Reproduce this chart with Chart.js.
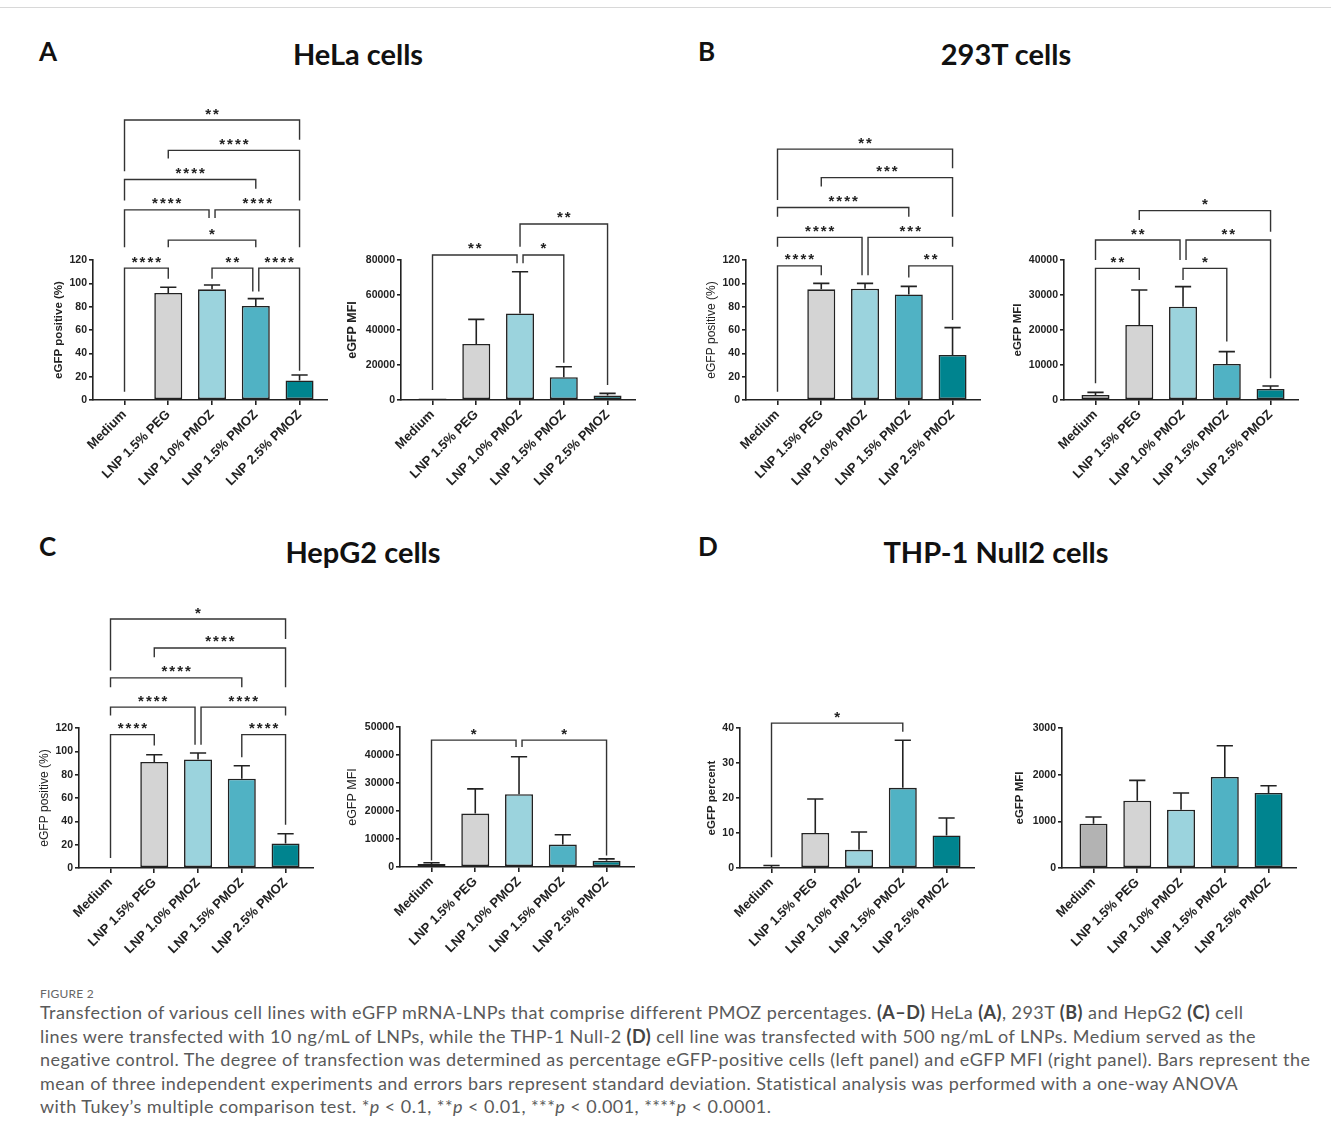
<!DOCTYPE html>
<html>
<head>
<meta charset="utf-8">
<script src="https://cdn.jsdelivr.net/npm/chart.js@4.4.1/dist/chart.umd.min.js"></script>
<style>
  body { margin: 0; background: #fff; }
  #page { position: relative; width: 1331px; height: 1138px; overflow: hidden; background: #fff; }
  #page canvas { position: absolute; }
  .topline { position: absolute; left: 0; top: 7px; width: 1331px; height: 1px; background: #d8d8d8; }
  .letter, .title { position: absolute; font-family: Lato, sans-serif; font-weight: 700; color: #111; line-height: 1; white-space: nowrap; }
  .letter { font-size: 26px; }
  .title { font-size: 29px; transform: translateX(-50%); }
  .figno { position: absolute; left: 40px; top: 986px; font-family: Lato, sans-serif; font-size: 12px; color: #666; letter-spacing: 0.2px; }
  .caption { position: absolute; left: 40px; top: 1001px; font-family: Lato, sans-serif; font-size: 18px; letter-spacing: 0.45px; line-height: 23.5px; color: #5a5a5a; white-space: nowrap; }
  .caption b { color: #444; }
</style>
</head>
<body>
<div id="page">
  <div class="topline"></div>
  <div class="letter" style="left:39px; top:38px;">A</div>
  <div class="title" style="left:358px; top:39px;">HeLa cells</div>
  <div class="letter" style="left:698px; top:38px;">B</div>
  <div class="title" style="left:1006px; top:39px;">293T cells</div>
  <div class="letter" style="left:39px; top:533px;">C</div>
  <div class="title" style="left:363px; top:537px;">HepG2 cells</div>
  <div class="letter" style="left:698px; top:533px;">D</div>
  <div class="title" style="left:996px; top:537px;">THP-1 Null2 cells</div>

  <canvas id="helaPct" width="297" height="400"></canvas>
  <canvas id="helaMfi" width="297" height="400"></canvas>
  <canvas id="t293Pct" width="297" height="400"></canvas>
  <canvas id="t293Mfi" width="297" height="400"></canvas>
  <canvas id="hepPct" width="297" height="400"></canvas>
  <canvas id="hepMfi" width="297" height="400"></canvas>
  <canvas id="thpPct" width="297" height="400"></canvas>
  <canvas id="thpMfi" width="297" height="400"></canvas>

  <div class="figno">FIGURE 2</div>
  <div class="caption">
    Transfection of various cell lines with eGFP mRNA-LNPs that comprise different PMOZ percentages. <b>(A–D)</b> HeLa <b>(A)</b>, 293T <b>(B)</b> and HepG2 <b>(C)</b> cell<br>
    lines were transfected with 10 ng/mL of LNPs, while the THP-1 Null-2 <b>(D)</b> cell line was transfected with 500 ng/mL of LNPs. Medium served as the<br>
    negative control. The degree of transfection was determined as percentage eGFP-positive cells (left panel) and eGFP MFI (right panel). Bars represent the<br>
    mean of three independent experiments and errors bars represent standard deviation. Statistical analysis was performed with a one-way ANOVA<br>
    with Tukey’s multiple comparison test. *<i>p</i> &lt; 0.1, **<i>p</i> &lt; 0.01, ***<i>p</i> &lt; 0.001, ****<i>p</i> &lt; 0.0001.
  </div>
</div>

<script>
// Categories and bar colours
const categories = ['Medium', 'LNP 1.5% PEG', 'LNP 1.0% PMOZ', 'LNP 1.5% PMOZ', 'LNP 2.5% PMOZ'];
const barColors = ['#b3b3b3', '#d4d4d4', '#9bd3dd', '#50b2c4', '#00848f'];

// HeLa
const helaPct = [0.2, 91.7, 94.9, 80.6, 16.8];
const helaPctSd = [0.1, 4.9, 3.7, 6.3, 4.6];
const helaMfi = [900, 32000, 49500, 13000, 2600];
const helaMfiSd = [500, 14100, 23800, 6000, 1200];

// 293T
const t293Pct = [0.4, 94.9, 95.4, 90.5, 38.6];
const t293PctSd = [0.1, 5.1, 4.6, 6.9, 23.4];
const t293Mfi = [1430, 21430, 26670, 10290, 3140];
const t293MfiSd = [760, 10000, 5710, 3520, 860];

// HepG2
const hepPct = [0.9, 90.9, 93.0, 76.6, 20.9];
const hepPctSd = [0.1, 6.2, 5.6, 11.1, 8.5];
const hepMfi = [1060, 19070, 26000, 8000, 2200];
const hepMfiSd = [440, 8830, 13400, 3500, 700];

// THP-1 Null2
const thpPct = [0.3, 10.0, 5.2, 22.9, 9.3];
const thpPctSd = [0.4, 9.7, 5.1, 13.6, 5.0];
const thpMfi = [950, 1443, 1250, 1950, 1607];
const thpMfiSd = [143, 434, 357, 670, 157];

// Significance brackets: [from, to, label, level, left leg end, right leg end]
const helaPctSig = [
    [0, 1, '****', 113, 7, 104],
    [2, 3, '**', 113, 104, 93],
    [3, 4, '****', 113, 93, 25],
    [1, 3, '*', 137, 131, 131],
    [0, 2, '****', 163, 131, 156],
    [2, 4, '****', 163, 156, 131],
    [0, 3, '****', 189, 171, 181],
    [1, 4, '****', 214, 207, 171],
    [0, 4, '**', 240, 196, 223]
];
const helaMfiSig = [
    [0, 2, '**', 82900, 5700, 78100],
    [2, 3, '*', 82900, 78100, 21300],
    [2, 4, '**', 100600, 87600, 8600]
];
const t293PctSig = [
    [0, 1, '****', 115, 7, 107],
    [3, 4, '**', 115, 105, 68.6],
    [0, 2, '****', 139.4, 131.4, 107],
    [2, 4, '***', 139.4, 107, 131.4],
    [0, 3, '****', 165, 157, 157],
    [1, 4, '***', 190.6, 183, 157],
    [0, 4, '**', 215, 171.4, 198.6]
];
const t293MfiSig = [
    [0, 1, '**', 37600, 4760, 34300],
    [2, 3, '*', 37600, 34300, 16700],
    [0, 2, '**', 45700, 40000, 40000],
    [2, 4, '**', 45700, 40000, 6200],
    [1, 4, '*', 54100, 51400, 48100]
];
const hepPctSig = [
    [0, 1, '****', 114.3, 8.6, 105],
    [3, 4, '****', 114.3, 95, 37],
    [0, 2, '****', 137.9, 130.8, 105.7],
    [2, 4, '****', 137.9, 105.7, 130.8],
    [0, 3, '****', 163, 155, 155],
    [1, 4, '****', 188.6, 180.6, 155],
    [0, 4, '*', 213.4, 169.2, 196.3]
];
const hepMfiSig = [
    [0, 2, '*', 45300, 2350, 42900],
    [2, 4, '*', 45300, 42900, 4100]
];
const thpPctSig = [
    [0, 3, '*', 41.4, 3.1, 38.9]
];

Chart.defaults.font.family = "'Liberation Sans', Arial, sans-serif";
Chart.defaults.color = '#222';

const extras = {};

// error bars (mean + SD) and significance brackets
const sigPlugin = {
    id: 'sig',
    afterDatasetsDraw(chart) {
        const extra = extras[chart.canvas.id];
        const { ctx } = chart;
        const xs = chart.scales.x, ys = chart.scales.y;
        const meta = chart.getDatasetMeta(0);
        ctx.save();
        ctx.strokeStyle = '#222';
        ctx.lineWidth = 1.6;
        extra.values.forEach((v, i) => {
            const bar = meta.data[i];
            const half = bar.width * 0.29;
            const y0 = ys.getPixelForValue(v);
            const y1 = ys.getPixelForValue(v + extra.sd[i]);
            if (y0 - y1 < 1) return;
            ctx.beginPath();
            ctx.moveTo(bar.x, y0);
            ctx.lineTo(bar.x, y1);
            ctx.moveTo(bar.x - half, y1);
            ctx.lineTo(bar.x + half, y1);
            ctx.stroke();
        });

        const br = extra.brackets;
        ctx.lineWidth = 1.4;
        ctx.strokeStyle = '#333';
        ctx.fillStyle = '#222';
        ctx.font = "bold 15px 'Liberation Sans'";
        ctx.textAlign = 'center';
        ctx.textBaseline = 'alphabetic';
        ctx.letterSpacing = '2px';
        br.forEach(([a, b, label, level, endA, endB]) => {
            let xa = xs.getPixelForValue(a);
            let xb = xs.getPixelForValue(b);
            if (br.some(o => o[3] === level && o[1] === a)) xa += 3;
            if (br.some(o => o[3] === level && o[0] === b)) xb -= 3;
            const yl = ys.getPixelForValue(level);
            ctx.beginPath();
            ctx.moveTo(xa, ys.getPixelForValue(endA));
            ctx.lineTo(xa, yl);
            ctx.lineTo(xb, yl);
            ctx.lineTo(xb, ys.getPixelForValue(endB));
            ctx.stroke();
            ctx.fillText(label, (xa + xb) / 2 + 1, yl - 1.5);
        });
        ctx.restore();
    }
};

const makeChart = (p) => {
    const canvas = document.getElementById(p.id);
    canvas.style.left = (p.axisX - 62) + 'px';
    canvas.style.top = (p.plotTop - 170) + 'px';
    extras[p.id] = { values: p.values, sd: p.sd, brackets: p.brackets || [] };
    const lineH = p.titleSize * 1.2;

    new Chart(canvas, {
        type: 'bar',
        data: {
            datasets: [{
                data: p.values.map((v, i) => ({ x: i, y: v })),
                backgroundColor: barColors,
                borderColor: '#222',
                borderWidth: 1.6,
                borderSkipped: false,
                barPercentage: 0.64,
                categoryPercentage: 1
            }]
        },
        options: {
            responsive: false,
            animation: false,
            layout: { padding: { top: 170, left: 0, right: 0, bottom: 0 } },
            plugins: {
                legend: { display: false },
                tooltip: { enabled: false }
            },
            scales: {
                x: {
                    type: 'linear',
                    min: -0.72,
                    max: 4.65,
                    offset: false,
                    afterBuildTicks: s => { s.ticks = categories.map((c, i) => ({ value: i })); },
                    afterFit: s => { s.height = 90; },
                    ticks: {
                        autoSkip: false,
                        minRotation: 45,
                        maxRotation: 45,
                        padding: 2,
                        color: '#222',
                        font: { size: 13, weight: 'bold' },
                        callback: v => categories[v]
                    },
                    grid: { offset: false, drawOnChartArea: false, drawTicks: true, tickLength: 5, color: '#222', lineWidth: 1.6 },
                    border: { color: '#222', width: 1.6 }
                },
                y: {
                    min: 0,
                    max: p.max,
                    afterFit: s => { s.width = 62; },
                    ticks: {
                        stepSize: p.step,
                        padding: 2,
                        color: '#222',
                        font: { size: 10.5, weight: 'bold' },
                        callback: v => String(v)
                    },
                    grid: { drawOnChartArea: false, drawTicks: true, tickLength: 4, color: '#222', lineWidth: 1.6 },
                    border: { color: '#222', width: 1.6 },
                    title: {
                        display: true,
                        text: p.yTitle,
                        color: '#222',
                        font: { size: p.titleSize, weight: p.titleBold ? 'bold' : 'normal' },
                        padding: { top: 62 - p.titleGap - lineH / 2, bottom: 0 }
                    }
                }
            }
        },
        plugins: [sigPlugin]
    });
};

const panels = [
    { id: 'helaPct', axisX: 93, plotTop: 260, values: helaPct, sd: helaPctSd, brackets: helaPctSig, max: 120, step: 20, yTitle: 'eGFP positive (%)', titleBold: true, titleSize: 11.5, titleGap: 34 },
    { id: 'helaMfi', axisX: 401, plotTop: 260, values: helaMfi, sd: helaMfiSd, brackets: helaMfiSig, max: 80000, step: 20000, yTitle: 'eGFP MFI', titleBold: true, titleSize: 12.5, titleGap: 48 },
    { id: 't293Pct', axisX: 746, plotTop: 260, values: t293Pct, sd: t293PctSd, brackets: t293PctSig, max: 120, step: 20, yTitle: 'eGFP positive (%)', titleBold: false, titleSize: 12, titleGap: 34 },
    { id: 't293Mfi', axisX: 1064, plotTop: 260, values: t293Mfi, sd: t293MfiSd, brackets: t293MfiSig, max: 40000, step: 10000, yTitle: 'eGFP MFI', titleBold: true, titleSize: 11.5, titleGap: 46 },
    { id: 'hepPct', axisX: 79, plotTop: 728, values: hepPct, sd: hepPctSd, brackets: hepPctSig, max: 120, step: 20, yTitle: 'eGFP positive (%)', titleBold: false, titleSize: 12, titleGap: 34 },
    { id: 'hepMfi', axisX: 400, plotTop: 727, values: hepMfi, sd: hepMfiSd, brackets: hepMfiSig, max: 50000, step: 10000, yTitle: 'eGFP MFI', titleBold: false, titleSize: 12.5, titleGap: 47 },
    { id: 'thpPct', axisX: 740, plotTop: 728, values: thpPct, sd: thpPctSd, brackets: thpPctSig, max: 40, step: 10, yTitle: 'eGFP percent', titleBold: true, titleSize: 11.5, titleGap: 28 },
    { id: 'thpMfi', axisX: 1062, plotTop: 728, values: thpMfi, sd: thpMfiSd, brackets: [], max: 3000, step: 1000, yTitle: 'eGFP MFI', titleBold: true, titleSize: 11.5, titleGap: 42 }
];

panels.forEach(makeChart);
</script>
</body>
</html>
